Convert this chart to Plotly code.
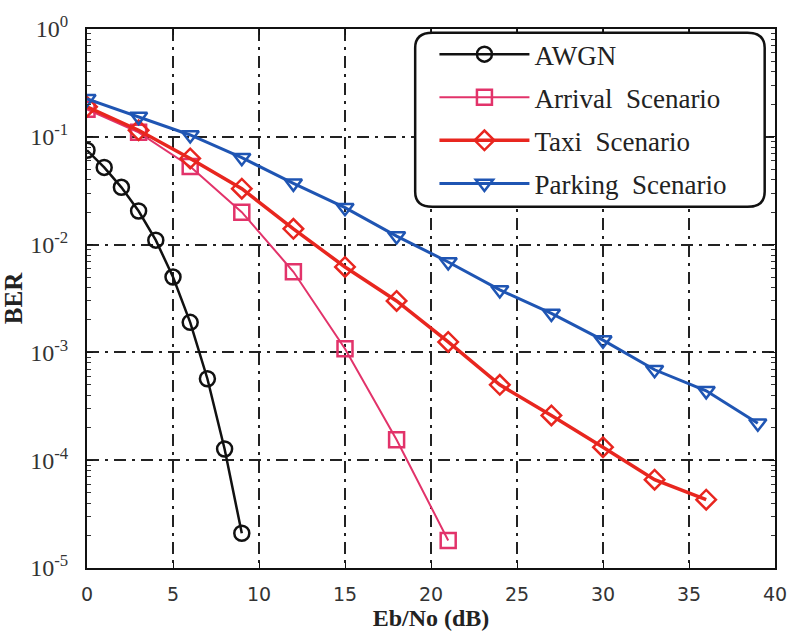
import plotly.graph_objects as go

awgn_x = [0, 1, 2, 3, 4, 5, 6, 7, 8, 9]
awgn_ber = [0.075, 0.052, 0.034, 0.0205, 0.011, 0.005, 0.0019, 0.00057, 0.000127, 0.000021]

arr_x = [0, 3, 6, 9, 12, 15, 18, 21]
arr_ber = [0.18, 0.11, 0.053, 0.02, 0.0056, 0.00108, 0.000155, 0.000018]

taxi_x = [0, 3, 6, 9, 12, 15, 18, 21, 24, 27, 30, 33, 36]
taxi_ber = [0.19, 0.115, 0.063, 0.033, 0.014, 0.0062, 0.0030, 0.00125, 0.0005, 0.00026, 0.000132, 0.000066, 0.000043]

park_x = [0, 3, 6, 9, 12, 15, 18, 21, 24, 27, 30, 33, 36, 39]
park_ber = [0.225, 0.154, 0.104, 0.064, 0.037, 0.022, 0.012, 0.0069, 0.0038, 0.0023, 0.0013, 0.00069, 0.00044, 0.00022]

x_ticks = [0, 5, 10, 15, 20, 25, 30, 35, 40]
y_ticks = [1, 0.1, 0.01, 0.001, 0.0001, 0.00001]
y_tick_text = ["10<sup>0</sup>", "10<sup>-1</sup>", "10<sup>-2</sup>", "10<sup>-3</sup>", "10<sup>-4</sup>", "10<sup>-5</sup>"]

names = ["AWGN", "Arrival  Scenario", "Taxi  Scenario", "Parking  Scenario"]
colors = ["#111111", "#e2336a", "#e8261f", "#1f55b3"]
symbols = ["circle-open", "square-open", "diamond-open", "triangle-down-open"]
widths = [2.5, 2, 3.5, 3]

fig = go.Figure()
for i, (xs, ys, n, c, s, w) in enumerate(zip([awgn_x, arr_x, taxi_x, park_x],
                                             [awgn_ber, arr_ber, taxi_ber, park_ber],
                                             names, colors, symbols, widths)):
    fig.add_trace(go.Scatter(x=xs, y=ys, name=n, mode="lines+markers", legendgroup=f"g{i}",
                             line=dict(color=c, width=w),
                             marker=dict(symbol=s, size=15, color=c, line=dict(width=2.5, color=c))))

serif = "Liberation Serif, Times New Roman, serif"
fig.update_layout(
    width=793, height=633,
    margin=dict(l=87, r=18, t=29, b=65),
    paper_bgcolor="white", plot_bgcolor="white",
    showlegend=True,
    legend=dict(x=0.505, y=0.998, xanchor="left", yanchor="top",
                bgcolor="rgba(0,0,0,0)", borderwidth=0,
                font=dict(family=serif, size=27, color="#222"),
                tracegroupgap=5, itemwidth=90),
    shapes=[dict(type="path", xref="paper", yref="paper", layer="above",
                 path="M 0.502 0.993 L 0.960 0.993 Q 0.985 0.993 0.985 0.965 L 0.985 0.698 Q 0.985 0.670 0.960 0.670 L 0.502 0.670 Q 0.477 0.670 0.477 0.698 L 0.477 0.965 Q 0.477 0.993 0.502 0.993 Z",
                 line=dict(color="#111", width=2.5), fillcolor="white")],
    xaxis=dict(range=[0, 40], tickvals=x_ticks, showgrid=True, gridcolor="#222", gridwidth=1.5,
               griddash="12px,6px,3px,6px", zeroline=False, showline=True, linecolor="#111", linewidth=2,
               mirror="ticks", ticks="inside", ticklen=6, tickcolor="#111", automargin=False,
               tickfont=dict(family="DejaVu Sans", size=19, color="#333"), ticklabelstandoff=8,
               title=dict(text="<b>Eb/No (dB)</b>", font=dict(family=serif, size=24, color="#222"), standoff=0)),
    yaxis=dict(type="log", range=[-5, 0], tickvals=y_ticks, ticktext=y_tick_text,
               showgrid=True, gridcolor="#222", gridwidth=1.5, griddash="12px,6px,3px,6px",
               zeroline=False, showline=True, linecolor="#111", linewidth=2, automargin=False,
               mirror="ticks", ticks="inside", ticklen=6, tickcolor="#111",
               minor=dict(dtick="D1", ticks="inside", ticklen=4, tickcolor="#333", showgrid=False),
               tickfont=dict(family=serif, size=24, color="#333"), ticklabelstandoff=12,
               title=dict(text="<b>BER</b>", font=dict(family=serif, size=25, color="#222"), standoff=2)),
)
fig.write_html("out.html")
